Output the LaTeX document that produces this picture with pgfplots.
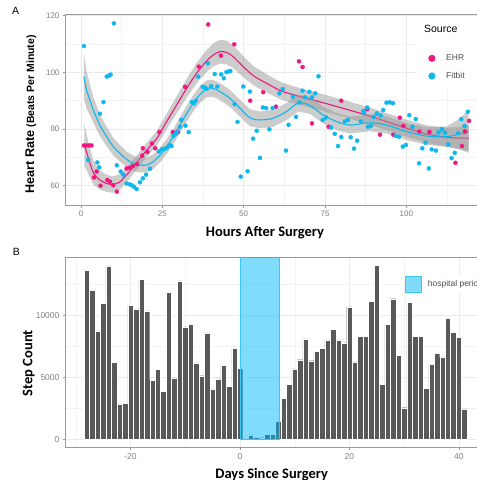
\documentclass[border=0pt]{standalone}
\usepackage{fontspec}
\setmainfont{Liberation Sans}
\newfontfamily\carlito{Carlito}
\usepackage{pgfplots}
\pgfplotsset{compat=1.18}
\definecolor{ehr}{HTML}{F0177F}
\definecolor{fit}{HTML}{0DB8EE}
\definecolor{ticktext}{HTML}{808080}
\definecolor{legtext}{HTML}{4D4D4D}
\definecolor{bordergray}{HTML}{9A9A9A}
\definecolor{gridmaj}{HTML}{EBEBEB}
\definecolor{gridmin}{HTML}{F3F3F3}
\definecolor{bargray}{HTML}{595959}
\definecolor{hospfill}{HTML}{00B9F5}
\definecolor{hospedge}{HTML}{3AC6F2}
\definecolor{ribbon}{HTML}{999999}
\pgfplotsset{
  ggbase/.style={
    scale only axis,
    axis line style={bordergray, line width=0.8pt},
    tick align=outside,
    xtick pos=left, ytick pos=left,
    major tick length=2.75pt,
    minor tick length=0pt,
    tick style={bordergray, line width=0.6pt},
    grid=both,
    major grid style={gridmaj, line width=0.7pt},
    minor grid style={gridmin, line width=0.4pt},
    tick label style={text=ticktext},
  }
}
\begin{document}
\begin{tikzpicture}[x=1pt,y=1pt]
\useasboundingbox (0,0) rectangle (477,480);
\clip (0,0) rectangle (477,480);
% ---------------- Panel A ----------------
\begin{axis}[ggbase,
  at={(65.7pt,275pt)}, anchor=south west,
  width=418.7pt, height=190.3pt,
  xmin=-4.71, xmax=124, ymin=53.19, ymax=120.35,
  xtick={0,25,50,75,100}, xticklabels={0,25,50,75,100},
  ytick={60,80,100,120}, yticklabels={60,80,100,120},
  minor xtick={12.5,37.5,62.5,87.5,112.5},
  minor ytick={70,90,110},
  tick label style={font=\fontsize{8}{9}\selectfont},
  xlabel={Hours After Surgery},
  xlabel style={font=\carlito\bfseries\fontsize{14.5}{16}\selectfont, at={(axis description cs:0.476,-0.1666)}, anchor=base},
  ylabel={{\fontsize{12.6}{14}\selectfont Heart Rate} {\fontsize{10.5}{12}\selectfont (Beats Per Minute)}},
  ylabel style={font=\bfseries, at={(axis description cs:-0.0757,0.477)}, anchor=base},
  legend style={at={(rel axis cs:0.8574,0.7244)}, anchor=west, draw=none, fill=none,
    inner sep=0pt, column sep=7.3pt, row sep=0pt,
    nodes={inner sep=0pt, font=\fontsize{8.5}{10}\selectfont, text=legtext}},
  legend cell align=left,
  legend image code/.code={\draw[#1, mark size=3.3pt] plot coordinates {(0pt,0pt)}; \path[draw=none, fill=none] (-7pt,-8.85pt) rectangle (7pt,8.85pt);},
]
% EHR points
\addplot[only marks, mark=*, mark size=2pt, color=ehr, mark options={draw=none, fill=ehr}] coordinates {
(0.9,74.2)(1.7,74.2)(2.5,74.2)(3.2,74.2)(4.0,62.9)(4.8,65.0)(6.0,60.0)(8.1,62.0)(8.9,61.4)(9.9,60.2)
(11.0,57.9)(14.0,66.1)(15.0,66.3)(15.9,66.9)(17.2,67.6)(18.8,70.6)(19.0,73.2)(20.4,71.9)(21.8,74.9)(22.8,73.2)
(24.1,78.9)(28.2,78.9)(29.8,78.9)(32.0,94.9)(36.2,102.0)(39.1,116.9)(43.0,105.9)(47.1,109.9)(52.0,90.0)(56.0,93.0)
(59.9,87.9)(67.0,103.9)(68.1,101.9)(71.0,82.0)(76.1,80.8)(80.0,90.0)(88.0,87.0)(91.9,78.0)(96.0,78.0)(98.0,84.0)
(99.1,81.1)(104.0,79.1)(107.1,79.0)(115.1,68.1)(117.1,74.0)(118.0,79.1)(119.3,82.9)
};
\addlegendentry{EHR}
% Fitbit points
\addplot[only marks, mark=*, mark size=2pt, color=fit, mark options={draw=none, fill=fit}] coordinates {
(0.9,109.3)(10.1,117.3)(7.9,98.5)(8.7,98.9)(9.1,99.2)(6.9,89.5)(5.8,85.4)(2.2,69.1)(5.0,68.2)(5.6,66.5)
(11.0,67.2)(12.2,65.0)(13.0,63.9)(14.0,60.8)(14.9,60.5)(15.7,60.1)(16.3,59.6)(17.1,58.8)(18.1,61.2)(19.0,62.6)
(20.0,63.9)(21.2,66.0)(23.9,72.1)(24.9,72.9)(25.7,73.0)(26.5,73.5)(27.2,74.4)(27.8,74.0)(28.4,77.5)(29.0,78.2)
(29.4,78.9)(30.4,80.8)(30.8,83.2)(32.1,81.2)(33.1,78.9)(34.1,89.5)(34.7,89.0)(35.3,90.0)(36.0,98.5)(37.4,94.9)
(38.0,94.7)(38.6,94.2)(39.0,103.2)(40.0,95.1)(41.1,99.4)(41.9,95.0)(43.1,99.3)(43.9,97.9)(44.7,100.1)(45.3,100.3)
(45.9,100.5)(47.2,88.8)(48.1,82.5)(49.1,63.2)(49.9,95.0)(51.2,65.1)(51.9,93.2)(52.9,76.6)(54.0,79.4)(55.0,69.8)
(55.9,87.6)(56.9,87.4)(57.9,79.9)(58.9,87.4)(61.0,92.6)(62.0,94.1)(63.0,72.4)(63.8,81.5)(65.1,91.4)(66.1,84.3)
(67.1,89.4)(68.1,93.5)(68.9,91.2)(70.2,93.1)(71.0,91.2)(72.0,92.6)(73.0,98.6)(74.3,83.2)(75.3,84.1)(76.9,80.5)
(78.0,78.3)(79.0,74.0)(80.0,77.2)(81.1,82.7)(82.1,83.2)(82.9,77.1)(83.9,73.1)(84.9,75.9)(86.0,82.7)(86.8,86.4)
(87.0,85.8)(88.0,87.6)(88.2,80.8)(89.1,81.1)(89.9,84.3)(90.9,85.5)(92.1,84.8)(92.9,86.7)(93.9,89.3)(94.9,89.4)
(95.9,89.1)(96.8,77.5)(97.8,77.3)(98.9,73.8)(99.9,74.4)(100.9,84.9)(101.9,80.8)(102.9,83.5)(103.9,67.9)(104.9,73.2)
(105.9,75.2)(106.9,66.1)(107.8,72.8)(109.1,72.4)(109.9,78.8)(110.9,79.9)(111.9,78.7)(112.9,74.6)(113.9,69.7)(114.9,71.6)
(115.9,78.5)(116.9,83.5)(117.9,81.1)(118.9,86.1)
};
\addlegendentry{Fitbit}
% EHR ribbon (upper then lower reversed)
\addplot[draw=none, fill=ribbon, fill opacity=0.5, forget plot] coordinates {
(1,81.9)(2.3,75.1)(3.8,68.8)(5.8,65.4)(7.9,63.8)(9.9,63.3)(12,64.1)(14,66.4)(17.1,70.6)(20.2,75.1)
(23.3,79.3)(26.3,85.4)(29.4,91.5)(32.5,97.7)(35.6,103.4)(38.6,107.9)(40.7,110.3)(42.7,111.5)(44.8,111.2)(46.8,109.5)
(49.9,105.7)(53,102.2)(57.1,99.3)(61.2,96.7)(65,95.2)(69.4,93.8)(75,92.1)(80.6,90.3)(87.8,87.9)(94,85.6)
(100.3,83.2)(106.3,81.3)(112.4,80.5)(116,80.7)(119.2,81.4)
(119.2,72.2)(116,72.9)(112.4,73.7)(106.3,75.1)(100.3,77.2)(94,79.6)(87.8,81.9)(80.6,84.3)(75,86.1)(69.4,87.8)
(65,89.2)(61.2,90.5)(57.1,92.9)(53,95.4)(49.9,98.3)(46.8,101.5)(44.8,102.8)(42.7,103.1)(40.7,102.1)(38.6,100.1)
(35.6,96.2)(32.5,91.1)(29.4,85.5)(26.3,79.8)(23.3,74.1)(20.2,70.1)(17.1,65.6)(14,61.2)(12,58.7)(9.9,57.5)
(7.9,57.8)(5.8,58.6)(3.8,60.4)(2.3,64.1)(1,66.9)
} -- cycle;
% EHR line
\addplot[ehr, line width=1.1pt, smooth, tension=0.5, forget plot] coordinates {
(1,74.4)(2.3,69.6)(3.8,64.6)(5.8,62.0)(7.9,60.8)(9.9,60.4)(12,61.4)(14,63.8)(17.1,68.1)(20.2,72.6)
(23.3,76.7)(26.3,82.6)(29.4,88.5)(32.5,94.4)(35.6,99.8)(38.6,104.0)(40.7,106.2)(42.7,107.3)(44.8,107.0)(46.8,105.5)
(49.9,102.0)(53,98.8)(57.1,96.1)(61.2,93.6)(65,92.2)(69.4,90.8)(75,89.1)(80.6,87.3)(87.8,84.9)(94,82.6)
(100.3,80.2)(106.3,78.2)(112.4,77.1)(116,76.8)(119.2,76.8)
};
% Fitbit ribbon
\addplot[draw=none, fill=ribbon, fill opacity=0.5, forget plot] coordinates {
(0.9,106.5)(1.7,100.3)(3.8,91.2)(5.8,85.2)(7.9,80.7)(9.9,76.9)(12,74.3)(14,72.1)(16.1,70.6)(18.1,69.9)
(20.2,69.9)(22.2,71.1)(24.3,73.4)(26.3,76.4)(28.4,80.0)(30.4,84.1)(32.5,88.3)(34.5,92.0)(36.6,95.2)(38.6,97.2)
(40.5,97.4)(42.7,96.2)(45.8,93.8)(48.9,90.3)(51.9,87.0)(55,86.2)(59.1,86.8)(63.2,89.2)(66.8,92.2)(70.4,91.3)
(74.5,87.9)(78.6,85.6)(82.7,84.4)(88.8,85.2)(94,84.4)(100.1,82.1)(106.3,80.6)(112.4,80.9)(116,83.4)(119.1,86.6)
(119.1,71.6)(116,73.0)(112.4,73.7)(106.3,74.4)(100.1,76.1)(94,78.4)(88.8,79.2)(82.7,78.4)(78.6,79.6)(74.5,81.9)
(70.4,85.3)(66.8,86.2)(63.2,83.2)(59.1,80.8)(55,80.2)(51.9,81.0)(48.9,84.3)(45.8,87.8)(42.7,90.2)(40.5,91.4)
(38.6,91.2)(36.6,89.2)(34.5,86.2)(32.5,82.7)(30.4,78.7)(28.4,74.6)(26.3,71.2)(24.3,68.2)(22.2,65.9)(20.2,64.7)
(18.1,64.7)(16.1,65.2)(14,66.5)(12,68.5)(9.9,70.7)(7.9,73.9)(5.8,77.6)(3.8,82.2)(1.7,87.3)(0.9,90.5)
} -- cycle;
% Fitbit line
\addplot[fit, line width=1.1pt, smooth, tension=0.5, forget plot] coordinates {
(0.9,98.5)(1.7,93.8)(3.8,86.7)(5.8,81.4)(7.9,77.3)(9.9,73.8)(12,71.4)(14,69.3)(16.1,67.9)(18.1,67.3)
(20.2,67.3)(22.2,68.5)(24.3,70.8)(26.3,73.8)(28.4,77.3)(30.4,81.4)(32.5,85.5)(34.5,89.1)(36.6,92.2)(38.6,94.2)
(40.5,94.4)(42.7,93.2)(45.8,90.8)(48.9,87.3)(51.9,84.0)(55,83.2)(59.1,83.8)(63.2,86.2)(66.8,89.2)(70.4,88.3)
(74.5,84.9)(78.6,82.6)(82.7,81.4)(88.8,82.2)(94,81.4)(100.1,79.1)(106.3,77.5)(112.4,77.3)(116,78.2)(119.1,79.1)
};
\fill[white] (rel axis cs:0.8366,0.6148) rectangle (rel axis cs:1.1,0.993);
\node[anchor=west, inner sep=0pt, font=\fontsize{10.5}{12}\selectfont] at (rel axis cs:0.8555,0.9265) {Source};
\end{axis}
% ---------------- Panel B ----------------
\begin{axis}[ggbase,
  at={(65.7pt,32.7pt)}, anchor=south west,
  width=417.8pt, height=190pt,
  xmin=-31.85, xmax=44.5, ymin=-645, ymax=14677,
  xtick={-20,0,20,40}, xticklabels={-20,0,20,40},
  ytick={0,5000,10000}, yticklabels={0,5000,10000},
  minor xtick={-30,-10,10,30},
  minor ytick={2500,7500,12500},
  scaled y ticks=false,
  tick label style={font=\fontsize{8.5}{10}\selectfont},
  xlabel={Days Since Surgery},
  xlabel style={font=\carlito\bfseries\fontsize{14.5}{16}\selectfont, at={(axis description cs:0.493,-0.1647)}, anchor=base},
  ylabel={Step Count},
  ylabel style={font=\carlito\bfseries\fontsize{14.5}{16}\selectfont, at={(axis description cs:-0.080,0.442)}, anchor=base},
  legend style={at={(rel axis cs:0.8121,0.8595)}, anchor=west, draw=none, fill=white,
    inner sep=0pt, column sep=6pt,
    nodes={inner sep=0pt, font=\fontsize{8.5}{10}\selectfont, text=legtext}},
  legend cell align=left,
  legend image code/.code={\draw[#1] (0pt,-8pt) rectangle (16pt,8pt);},
]
\addplot[ybar, bar width=1, bar shift=0pt, fill=bargray, draw=white, line width=0.35pt, forget plot] coordinates {
(-28,13600)(-27,12050)(-26,8750)(-25,10970)(-24,13980)(-23,6200)(-22,2850)(-21,2900)(-20,10780)(-19,10510)
(-18,12880)(-17,10350)(-16,4760)(-15,5650)(-14,3870)(-13,11830)(-12,4950)(-11,12770)(-10,9060)(-9,9270)
(-8,6160)(-7,5130)(-6,8580)(-5,4060)(-4,4870)(-3,5940)(-2,4270)(-1,7310)(0,5730)
(2,350)(3,185)(4,130)(5,400)(6,400)(7,1450)
(8,3300)(9,4440)(10,5670)(11,6420)(12,8090)(13,6340)(14,7120)(15,7310)(16,8010)(17,8870)
(18,8010)(19,7770)(20,10670)(21,6240)(22,8280)(23,8280)(24,11100)(25,14030)(26,4440)(27,9270)
(28,11340)(29,6770)(30,2550)(31,11020)(32,8330)(33,8280)(34,4110)(35,6020)(36,6910)(37,6640)
(38,9760)(39,8630)(40,8200)(41,2450)
};
\addplot[draw=hospedge, fill=hospfill, fill opacity=0.5, line width=0.7pt] coordinates {
(0.1,0)(7.2,0)(7.2,16000)(0.1,16000)
} -- cycle;
\addlegendentry{hospital period}
\end{axis}
\node[anchor=base west, inner sep=0pt, font=\fontsize{10.5}{12}\selectfont] at (12,465.7) {A};
\node[anchor=base west, inner sep=0pt, font=\fontsize{10.5}{12}\selectfont] at (12.7,224.7) {B};
\end{tikzpicture}
\end{document}
